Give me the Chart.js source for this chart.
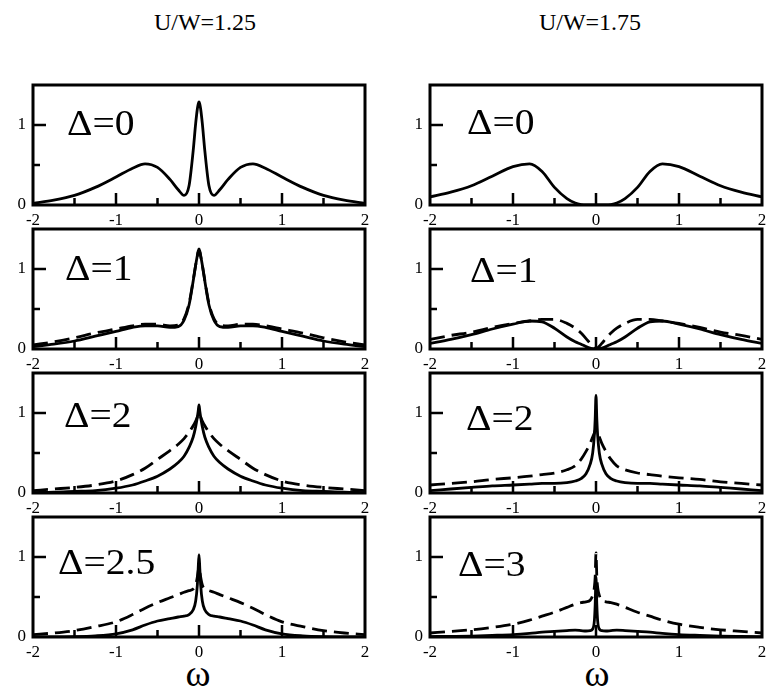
<!DOCTYPE html>
<html lang="en">
<head>
<meta charset="UTF-8" />
<script src="https://cdn.jsdelivr.net/npm/chart.js@4.4.0/dist/chart.umd.min.js"></script>
<title>Spectral functions</title>
<style>
  body {
    margin: 0;
    width: 767px;
    height: 691px;
    position: relative;
    overflow: hidden;
    background: #fff;
  }
  .panel { position: absolute; }
  .txt {
    position: absolute;
    font-family: "Liberation Serif", Tinos, "Times New Roman", Times, "DejaVu Serif", serif;
    color: #000;
    line-height: 1;
    white-space: nowrap;
    text-align: center;
  }
</style>
</head>
<body>
<div class="txt" style="left:105px;top:10px;width:200px;font-size:24px">U/W=1.25</div>
<div class="txt" style="left:490px;top:10px;width:200px;font-size:24px">U/W=1.75</div>
<div class="txt" style="left:148px;top:654px;width:100px;font-size:38px">ω</div>
<div class="txt" style="left:547px;top:654px;width:100px;font-size:38px">ω</div>
<script>
const omega = [-2, -1.75, -1.5, -1.25, -1, -0.8, -0.65, -0.5, -0.35, -0.25, -0.18, -0.12, -0.07, -0.04, -0.02, -0.01, 0,
  0.01, 0.02, 0.04, 0.07, 0.12, 0.18, 0.25, 0.35, 0.5, 0.65, 0.8, 1, 1.25, 1.5, 1.75, 2]
const xTicks = [-2, -1, 0, 1, 2]
const yTicks = [0, 1]
const xMajor = [-1, 0, 1]
const xMinor = [-1.5, -0.5, 0.5, 1.5]
const yMajor = [1]
const yMinor = [0.5]

// U/W = 1.25
const left0 = [0.02,0.06,0.12,0.22,0.35,0.46,0.515,0.47,0.32,0.19,0.12,0.24,0.68,1.02,1.2,1.26,1.29,1.26,1.2,1.02,0.68,0.24,0.12,0.19,0.32,0.47,0.515,0.46,0.35,0.22,0.12,0.06,0.02]
const left1 = [0.03,0.06,0.1,0.16,0.22,0.27,0.29,0.29,0.27,0.28,0.36,0.55,0.85,1.05,1.17,1.22,1.25,1.22,1.17,1.05,0.85,0.55,0.36,0.28,0.27,0.29,0.29,0.27,0.22,0.16,0.1,0.06,0.03]
const left1d = [0.05,0.09,0.14,0.2,0.25,0.29,0.31,0.31,0.29,0.3,0.38,0.57,0.86,1.05,1.16,1.21,1.23,1.21,1.16,1.05,0.86,0.57,0.38,0.3,0.29,0.31,0.31,0.29,0.25,0.2,0.14,0.09,0.05]
const left2 = [0.005,0.01,0.02,0.03,0.06,0.1,0.15,0.21,0.3,0.38,0.46,0.57,0.7,0.83,0.95,1.02,1.1,1.02,0.95,0.83,0.7,0.57,0.46,0.38,0.3,0.21,0.15,0.1,0.06,0.03,0.02,0.01,0.005]
const left2d = [0.03,0.05,0.07,0.1,0.15,0.23,0.31,0.42,0.53,0.61,0.68,0.76,0.84,0.9,0.95,0.98,1.0,0.98,0.95,0.9,0.84,0.76,0.68,0.61,0.53,0.42,0.31,0.23,0.15,0.1,0.07,0.05,0.03]
const left3 = [0,0.002,0.005,0.015,0.04,0.09,0.15,0.2,0.23,0.25,0.26,0.28,0.34,0.45,0.65,0.85,1.03,0.85,0.65,0.45,0.34,0.28,0.26,0.25,0.23,0.2,0.15,0.09,0.04,0.015,0.005,0.002,0]
const left3d = [0.03,0.05,0.08,0.13,0.19,0.28,0.36,0.43,0.49,0.53,0.56,0.58,0.6,0.65,0.75,0.82,0.88,0.82,0.75,0.65,0.6,0.58,0.56,0.53,0.49,0.43,0.36,0.28,0.19,0.13,0.08,0.05,0.03]

// U/W = 1.75
const right0 = [0.1,0.16,0.24,0.36,0.48,0.515,0.42,0.22,0.08,0.025,0.006,0,0,0,0,0,0,0,0,0,0,0,0.006,0.025,0.08,0.22,0.42,0.515,0.48,0.36,0.24,0.16,0.1]
const right1 = [0.07,0.12,0.18,0.25,0.31,0.35,0.34,0.26,0.15,0.09,0.06,0.03,0.01,0.004,0,0,0,0,0,0.004,0.01,0.03,0.06,0.09,0.15,0.26,0.34,0.35,0.31,0.25,0.18,0.12,0.07]
const right1d = [0.12,0.17,0.21,0.27,0.32,0.35,0.37,0.37,0.32,0.26,0.2,0.13,0.07,0.035,0.015,0.006,0,0.006,0.015,0.035,0.07,0.13,0.2,0.26,0.32,0.37,0.37,0.35,0.32,0.27,0.21,0.17,0.12]
const right2 = [0.03,0.05,0.07,0.09,0.1,0.11,0.12,0.12,0.13,0.15,0.18,0.24,0.36,0.5,0.72,0.92,1.22,0.92,0.72,0.5,0.36,0.24,0.18,0.15,0.13,0.12,0.12,0.11,0.1,0.09,0.07,0.05,0.03]
const right2d = [0.1,0.12,0.14,0.17,0.19,0.21,0.23,0.25,0.29,0.34,0.42,0.52,0.62,0.7,0.75,0.78,0.8,0.78,0.75,0.7,0.62,0.52,0.42,0.34,0.29,0.25,0.23,0.21,0.19,0.17,0.14,0.12,0.1]
const right3 = [0.005,0.008,0.012,0.02,0.03,0.045,0.06,0.07,0.08,0.085,0.08,0.075,0.08,0.1,0.2,0.4,0.75,0.4,0.2,0.1,0.08,0.075,0.08,0.085,0.08,0.07,0.06,0.045,0.03,0.02,0.012,0.008,0.005]
const right3d = [0.05,0.07,0.09,0.12,0.16,0.21,0.26,0.31,0.37,0.41,0.43,0.44,0.46,0.52,0.62,0.75,1.05,0.75,0.62,0.52,0.46,0.44,0.43,0.41,0.37,0.31,0.26,0.21,0.16,0.12,0.09,0.07,0.05]

const serif = '"Liberation Serif", Tinos, "Times New Roman", Times, "DejaVu Serif", serif'
const AXW = 32, AXH = 26, PT = 6, PR = 12
const PW = 332, PH = 120

const panels = [
  { label: 'Δ=0', solid: left0, left: 33, top: 85, dx: 34, dy: 50 },
  { label: 'Δ=1', solid: left1, dashed: left1d, left: 33, top: 229, dx: 32, dy: 51 },
  { label: 'Δ=2', solid: left2, dashed: left2d, left: 33, top: 373, dx: 31, dy: 54 },
  { label: 'Δ=2.5', solid: left3, dashed: left3d, left: 33, top: 517, dx: 25, dy: 57 },
  { label: 'Δ=0', solid: right0, left: 430, top: 85, dx: 37, dy: 49 },
  { label: 'Δ=1', solid: right1, dashed: right1d, left: 430, top: 229, dx: 40, dy: 53 },
  { label: 'Δ=2', solid: right2, dashed: right2d, left: 430, top: 373, dx: 36, dy: 57 },
  { label: 'Δ=3', solid: right3, dashed: right3d, left: 430, top: 517, dx: 28, dy: 59 },
]

// frame, inward ticks and the Δ label
const framePlugin = {
  id: 'frame',
  afterDatasetsDraw(chart, args, opts) {
    const { ctx, chartArea: a, scales: { x, y } } = chart
    ctx.save()
    ctx.strokeStyle = '#000'
    ctx.lineWidth = 2.5
    ctx.beginPath()
    xMajor.forEach((v) => { const px = x.getPixelForValue(v); ctx.moveTo(px, a.bottom); ctx.lineTo(px, a.bottom - 12) })
    xMinor.forEach((v) => { const px = x.getPixelForValue(v); ctx.moveTo(px, a.bottom); ctx.lineTo(px, a.bottom - 7) })
    yMajor.forEach((v) => { const py = y.getPixelForValue(v); ctx.moveTo(a.left, py); ctx.lineTo(a.left + 13, py) })
    yMinor.forEach((v) => { const py = y.getPixelForValue(v); ctx.moveTo(a.left, py); ctx.lineTo(a.left + 7, py) })
    ctx.stroke()
    ctx.lineWidth = 3
    ctx.strokeRect(a.left, a.top, a.right - a.left, a.bottom - a.top)
    ctx.fillStyle = '#000'
    ctx.font = '35px ' + serif
    ctx.textBaseline = 'alphabetic'
    ctx.translate(a.left + opts.dx, a.top + opts.dy)
    ctx.scale(1.13, 1)
    ctx.fillText(opts.label, 0, 0)
    ctx.restore()
  },
}

panels.forEach((p) => {
  const wrap = document.createElement('div')
  wrap.className = 'panel'
  wrap.style.left = p.left - AXW + 'px'
  wrap.style.top = p.top - PT + 'px'
  wrap.style.width = PW + AXW + PR + 'px'
  wrap.style.height = PH + PT + AXH + 'px'
  const canvas = document.createElement('canvas')
  wrap.appendChild(canvas)
  document.body.appendChild(wrap)

  const line = (values, dash) => ({
    data: omega.map((w, i) => ({ x: w, y: values[i] })),
    borderColor: '#000',
    borderWidth: 2.8,
    borderDash: dash,
    pointRadius: 0,
    cubicInterpolationMode: 'monotone',
    fill: false,
  })
  const datasets = []
  if (p.dashed) datasets.push(line(p.dashed, [15, 7]))
  datasets.push(line(p.solid, []))

  const tickFont = { family: serif, size: 17 }
  new Chart(canvas, {
    type: 'line',
    data: { datasets },
    options: {
      responsive: true,
      maintainAspectRatio: false,
      animation: false,
      layout: { padding: { top: PT, right: PR, left: 0, bottom: 0 } },
      plugins: {
        legend: { display: false },
        tooltip: { enabled: false },
        frame: { label: p.label, dx: p.dx, dy: p.dy },
      },
      scales: {
        x: {
          type: 'linear',
          min: -2,
          max: 2,
          afterBuildTicks: (s) => { s.ticks = xTicks.map((v) => ({ value: v })) },
          afterFit: (s) => { s.height = AXH; s.paddingLeft = 0; s.paddingRight = 0; s.paddingTop = 0; s.paddingBottom = 0 },
          grid: { display: false, drawTicks: false },
          border: { display: false },
          ticks: { padding: 5, color: '#000', font: tickFont, maxRotation: 0, autoSkip: false },
        },
        y: {
          min: 0,
          max: 1.5,
          afterBuildTicks: (s) => { s.ticks = yTicks.map((v) => ({ value: v })) },
          afterFit: (s) => { s.width = AXW; s.paddingLeft = 0; s.paddingRight = 0; s.paddingTop = 0; s.paddingBottom = 0 },
          grid: { display: false, drawTicks: false },
          border: { display: false },
          ticks: { padding: 7, color: '#000', font: tickFont },
        },
      },
    },
    plugins: [framePlugin],
  })
})
</script>
</body>
</html>
